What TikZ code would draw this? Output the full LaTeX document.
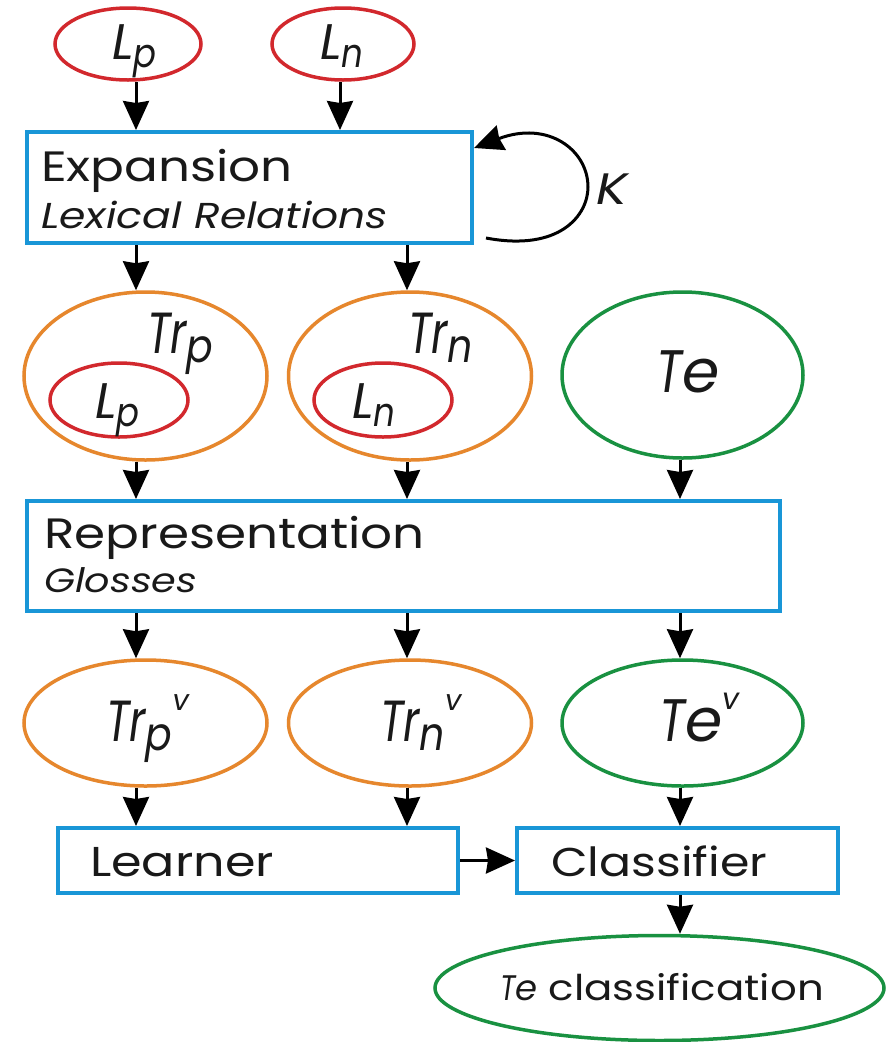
\documentclass[tikz,border=0pt]{standalone}
\usepackage{fontspec}
\setmainfont{Poppins}[FakeStretch=1.18]
\newfontfamily\labf{Poppins}
\usetikzlibrary{arrows.meta,shapes.geometric}
\definecolor{cred}{RGB}{210,40,45}
\definecolor{corange}{RGB}{230,135,45}
\definecolor{cgreen}{RGB}{25,145,65}
\definecolor{cblue}{RGB}{25,150,215}
\newcommand{\fs}[1]{\fontsize{#1pt}{#1pt}\selectfont}
\newcommand{\sbx}[1]{\raisebox{-0.16em}{\fontsize{0.8em}{0.8em}\selectfont\scalebox{0.85}[1]{#1}}}
\newcommand{\spx}[1]{\raisebox{0.52em}{\fontsize{0.5em}{0.5em}\selectfont #1}}
\newcommand{\Tr}{\scalebox{0.75}[1]{Tr}}
\newcommand{\Te}{\scalebox{0.8}[1]{T}e}
\begin{document}
\begin{tikzpicture}[x=1pt,y=-1pt,
  boxn/.style={draw=cblue, line width=4pt, inner sep=0pt, rectangle},
  elln/.style={ellipse, line width=3.5pt, inner sep=0pt},
  arr/.style={line width=3pt, -{Stealth[length=29pt,width=26pt,inset=2pt]}},
  lbl/.style={anchor=base west, inner sep=0pt, text=black!90},
  mlbl/.style={lbl, font=\labf\itshape}]
\useasboundingbox (0,0) rectangle (886,1042);
\fill[white] (0,0) rectangle (886,1042);
\coordinate (a1) at (136,0);
\coordinate (a2) at (340,0);
\coordinate (c2) at (407,0);
\coordinate (c3) at (680,0);
% top
\node[elln, draw=cred, minimum width=146pt, minimum height=72pt] (lp) at (128,44) {};
\node[elln, draw=cred, minimum width=142pt, minimum height=72pt] (ln) at (343,44) {};
\node[mlbl] (lpt) at (112,59) {\fs{50}L\sbx{p}};
\node[mlbl] (lnt) at (320,59) {\fs{50}L\sbx{n}};
\node[boxn, minimum width=445pt, minimum height=111pt] (exp) at (249.5,187.5) {};
\node[lbl, font=\fs{42.4}] (expt) at (41,181) {Expansion};
\node[lbl, font=\fs{36}\itshape] (lext) at (41,228) {Lexical Relations};
\draw[arr] (lp.south -| a1) -- (exp.north -| a1);
\draw[arr] (ln.south -| a2) -- (exp.north -| a2);
\coordinate (k1) at (486,238);
\coordinate (k2) at (474,148);
\draw[arr] (k1) .. controls (560,252) and (588,215) .. (588,187) .. controls (588,150) and (548,120) .. (k2);
\node[lbl, font=\fs{44}\itshape] (kt) at (596,204) {K};
% middle
\node[elln, draw=corange, minimum width=243pt, minimum height=168pt] (trp) at (145.5,376) {};
\node[elln, draw=corange, minimum width=243pt, minimum height=168pt] (trn) at (410,376) {};
\node[elln, draw=cgreen, minimum width=241pt, minimum height=166pt] (te) at (682.5,375) {};
\node[elln, draw=cred, minimum width=138pt, minimum height=74pt] (lpi) at (119,400) {};
\node[elln, draw=cred, minimum width=138pt, minimum height=74pt] (lni) at (383,400) {};
\node[mlbl] (trpt) at (147,353) {\fs{58}\Tr\sbx{p}};
\node[mlbl] (trnt) at (408,353) {\fs{58}\Tr\sbx{n}};
\node[mlbl] (lpit) at (95,418) {\fs{50}L\sbx{p}};
\node[mlbl] (lnit) at (352,418) {\fs{50}L\sbx{n}};
\node[mlbl] (tet) at (656,392) {\fs{60}\Te};
\draw[arr] (exp.south -| a1) -- (trp.north -| a1);
\draw[arr] (exp.south -| c2) -- (trn.north -| c2);
\node[boxn, minimum width=753pt, minimum height=110pt] (rep) at (403.5,556) {};
\node[lbl, font=\fs{42.4}] (rept) at (44,548) {Representation};
\node[lbl, font=\fs{33.7}\itshape] (glt) at (44,592) {Glosses};
\draw[arr] (trp.south -| a1) -- (rep.north -| a1);
\draw[arr] (trn.south -| c2) -- (rep.north -| c2);
\draw[arr] (te.south -| c3) -- (rep.north -| c3);
% vectors
\node[elln, draw=corange, minimum width=243pt, minimum height=126pt] (trpv) at (145.5,723) {};
\node[elln, draw=corange, minimum width=243pt, minimum height=126pt] (trnv) at (410,723) {};
\node[elln, draw=cgreen, minimum width=241pt, minimum height=126pt] (tev) at (682.5,723) {};
\node[mlbl] (trpvt) at (106,741) {\fs{58}\Tr\sbx{p}\spx{v}};
\node[mlbl] (trnvt) at (380,741) {\fs{58}\Tr\sbx{n}\spx{v}};
\node[mlbl] (tevt) at (659,741) {\fs{60}\Te\spx{v}};
\draw[arr] (rep.south -| a1) -- (trpv.north -| a1);
\draw[arr] (rep.south -| c2) -- (trnv.north -| c2);
\draw[arr] (rep.south -| c3) -- (tev.north -| c3);
% bottom
\node[boxn, minimum width=400pt, minimum height=65pt] (lea) at (258,860.5) {};
\node[boxn, minimum width=321pt, minimum height=65pt] (cla) at (677.5,860.5) {};
\node[lbl, font=\fs{41.7}] (leat) at (90,876) {Learner};
\node[lbl, font=\fs{40.2}] (clat) at (551,876) {Classifier};
\draw[arr] (trpv.south -| a1) -- (lea.north -| a1);
\draw[arr] (trnv.south -| c2) -- (lea.north -| c2);
\draw[arr] (tev.south -| c3) -- (cla.north -| c3);
\draw[arr] (lea.east) -- (cla.west);
\node[elln, draw=cgreen, minimum width=449pt, minimum height=105pt] (tec) at (659.5,988) {};
\node[lbl, font=\fs{35.5}] (tect) at (500,1000) {{\labf\itshape\Te} classification};
\draw[arr] (cla.south -| c3) -- (tec.north -| c3);
\end{tikzpicture}
\end{document}
